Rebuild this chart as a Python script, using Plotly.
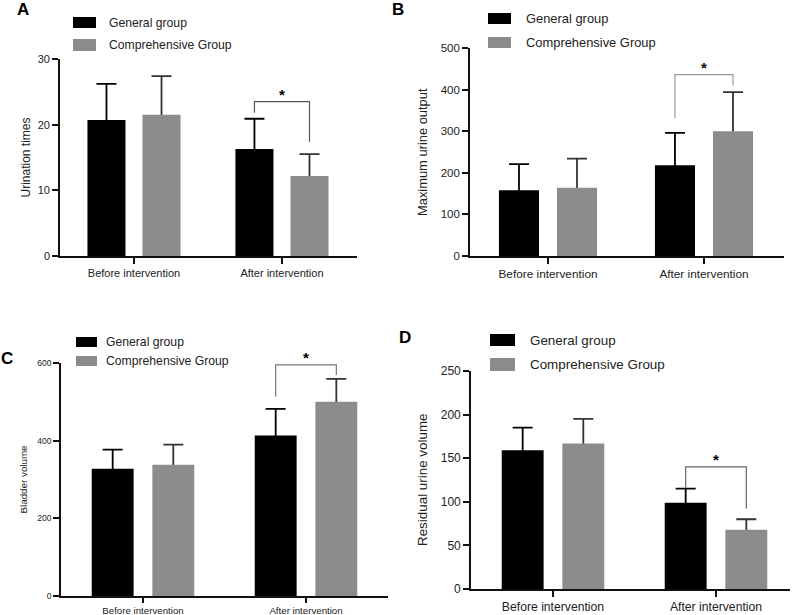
import plotly.graph_objects as go

W, H = 800, 615

categories = ["Before intervention", "After intervention"]
series_names = ["General group", "Comprehensive Group"]

# Panel A: Urination times
a_general = [20.7, 16.3]
a_general_sd = [5.5, 4.6]
a_comp = [21.5, 12.2]
a_comp_sd = [5.9, 3.3]

# Panel B: Maximum urine output
b_general = [158, 218]
b_general_sd = [63, 78]
b_comp = [164, 300]
b_comp_sd = [70, 94]

# Panel C: Bladder volume
c_general = [328, 413]
c_general_sd = [49, 69]
c_comp = [338, 500]
c_comp_sd = [52, 59]

# Panel D: Residual urine volume
d_general = [159, 99]
d_general_sd = [26, 16]
d_comp = [167, 68]
d_comp_sd = [28, 12]

# significance brackets: (top, left-leg bottom, right-leg bottom)
a_bracket = [23.5, 21.8, 17.4]
b_bracket = [436, 331, 410]
c_bracket = [595, 513, 569]
d_bracket = [140, 116, 92]

BLACK = "#000000"
GRAY = "#8c8c8c"
BAR_W = 0.257
SLOT = 0.372
OFF_G = -SLOT / 2 - BAR_W / 2
OFF_C = SLOT / 2 - BAR_W / 2


def px(x):
    return x / W


def py(y):
    return 1 - y / H


panels = [
    dict(n=1, letter="A", data=(a_general, a_general_sd, a_comp, a_comp_sd), br=a_bracket,
         xdom=(60, 357), ydom=(256, 59), xr=(-0.5, 1.507), yr=(0, 30), dtick=10,
         tickfs=11, catfs=11, xticklen=6, ytitle="Urination times", ytfs=12, ytx=25,
         letter_xy=(23, 9), leg=(73, 96, 17, 28, 39, 51, 107), legfs=12.2,
         br_col="#555555"),
    dict(n=2, letter="B", data=(b_general, b_general_sd, b_comp, b_comp_sd), br=b_bracket,
         xdom=(470, 784), ydom=(256, 48), xr=(-0.5, 1.513), yr=(0, 500), dtick=100,
         tickfs=11.5, catfs=11.8, xticklen=6, ytitle="Maximum urine output", ytfs=12.9, ytx=422,
         letter_xy=(398, 10), leg=(488, 511, 13, 24, 37, 48, 524), legfs=12.9,
         br_col="#999999"),
    dict(n=3, letter="C", data=(c_general, c_general_sd, c_comp, c_comp_sd), br=c_bracket,
         xdom=(61, 388), ydom=(596, 363), xr=(-0.503, 1.503), yr=(0, 600), dtick=200,
         tickfs=8.5, catfs=9.7, xticklen=5, ytitle="Bladder volume", ytfs=9.8, ytx=23,
         letter_xy=(7, 358), leg=(76, 97, 337, 347, 356, 366, 104), legfs=12.2,
         br_col="#777777"),
    dict(n=4, letter="D", data=(d_general, d_general_sd, d_comp, d_comp_sd), br=d_bracket,
         xdom=(471, 790), ydom=(589, 371), xr=(-0.503, 1.454), yr=(0, 250), dtick=50,
         tickfs=12, catfs=12.2, xticklen=6, ytitle="Residual urine volume", ytfs=13.4, ytx=422,
         letter_xy=(405, 337), leg=(490, 515, 334, 346, 358, 371, 528), legfs=13.4,
         br_col="#666666"),
]

fig = go.Figure()
shapes = []
annotations = []
FONT = "Liberation Sans, Arial, sans-serif"


def axname(prefix, i):
    return prefix + ("" if i == 1 else str(i))


for p in panels:
    n = p["n"]
    xa = axname("x", n)
    ya = axname("y", n)          # main axis (ticks, error bars)
    yo = axname("y", n + 4)      # overlay axis (visible bars drawn on top)
    g, gsd, c, csd = p["data"]

    # transparent bars on the main axis carrying mean +/- SD error bars;
    # the lower half is hidden behind the visible bars drawn above
    for vals, sds, off, ecol, nm in [(g, gsd, OFF_G, "#000000", series_names[0]),
                                     (c, csd, OFF_C, "#333333", series_names[1])]:
        fig.add_trace(go.Bar(
            x=categories, y=vals, name=nm, width=BAR_W, offset=off,
            marker=dict(color="rgba(0,0,0,0)", line=dict(width=0)),
            error_y=dict(type="data", array=sds, symmetric=True,
                         color=ecol, thickness=1.8, width=10),
            xaxis=xa, yaxis=ya, showlegend=False, hoverinfo="skip"))
    # visible bars on the overlay axis
    for vals, off, col, nm in [(g, OFF_G, BLACK, series_names[0]),
                               (c, OFF_C, GRAY, series_names[1])]:
        fig.add_trace(go.Bar(
            x=categories, y=vals, name=nm, width=BAR_W, offset=off,
            marker=dict(color=col, line=dict(width=0)),
            xaxis=xa, yaxis=yo, showlegend=False))

    axis_common = dict(showline=True, linecolor="#111111", linewidth=1.6, ticks="outside",
                       tickwidth=1.6, tickcolor="#111111", showgrid=False,
                       zeroline=False, fixedrange=True, automargin=False)
    fig.update_layout(**{
        ("xaxis" + ("" if n == 1 else str(n))): dict(
            domain=[px(p["xdom"][0]), px(p["xdom"][1])], range=list(p["xr"]),
            anchor=ya, type="category", ticklen=p["xticklen"],
            tickfont=dict(size=p["catfs"], color="#222222", family=FONT), **axis_common),
        ("yaxis" + ("" if n == 1 else str(n))): dict(
            domain=[py(p["ydom"][0]), py(p["ydom"][1])], range=list(p["yr"]),
            anchor=xa, dtick=p["dtick"], tick0=0, ticklen=6,
            tickfont=dict(size=p["tickfs"], color="#222222", family=FONT), **axis_common),
        ("yaxis" + str(n + 4)): dict(
            overlaying=ya, anchor=xa, range=list(p["yr"]), visible=False,
            showgrid=False, zeroline=False, fixedrange=True, automargin=False),
    })

    # y-axis title
    ymid = (p["ydom"][0] + p["ydom"][1]) / 2
    annotations.append(dict(x=px(p["ytx"]), y=py(ymid), xref="paper", yref="paper",
                            text=p["ytitle"], textangle=-90, showarrow=False,
                            font=dict(size=p["ytfs"], color="#222222", family=FONT),
                            xanchor="center", yanchor="middle"))
    # panel letter
    lx, ly = p["letter_xy"]
    annotations.append(dict(x=px(lx), y=py(ly), xref="paper", yref="paper",
                            text="<b>%s</b>" % p["letter"], showarrow=False,
                            font=dict(size=17, color="#000000", family=FONT),
                            xanchor="center", yanchor="middle"))
    # legend (manual swatches)
    x0, x1, gy0, gy1, cy0, cy1, tx = p["leg"]
    for (y0, y1, col, nm) in [(gy0, gy1, BLACK, series_names[0]), (cy0, cy1, GRAY, series_names[1])]:
        shapes.append(dict(type="rect", xref="paper", yref="paper", x0=px(x0), x1=px(x1),
                           y0=py(y1), y1=py(y0), fillcolor=col, line=dict(width=0)))
        annotations.append(dict(x=px(tx), y=py((y0 + y1) / 2), xref="paper", yref="paper",
                                text=nm, showarrow=False, xanchor="left", yanchor="middle",
                                font=dict(size=p["legfs"], color="#222222", family=FONT)))
    # significance bracket on the "After intervention" pair
    top, lb, rb = p["br"]
    xl = 1 + OFF_G + BAR_W / 2
    xr = 1 + OFF_C + BAR_W / 2
    shapes.append(dict(type="path", xref=xa, yref=ya,
                       path="M %f,%f L %f,%f L %f,%f L %f,%f" % (xl, lb, xl, top, xr, top, xr, rb),
                       line=dict(color=p["br_col"], width=1.2)))
    annotations.append(dict(x=1, y=top, xref=xa, yref=ya, text="<b>*</b>", showarrow=False,
                            xanchor="center", yanchor="bottom", yshift=-3,
                            font=dict(size=15, color="#000000", family=FONT)))

fig.update_layout(
    width=W, height=H, margin=dict(l=0, r=0, t=0, b=0, autoexpand=False),
    paper_bgcolor="white", plot_bgcolor="white",
    barmode="overlay",
    shapes=shapes, annotations=annotations, showlegend=False,
    font=dict(family=FONT, color="#222222"),
)

post = ("var d=document.getElementById('{plot_id}');"
        "document.body.style.margin='0';document.body.style.overflow='hidden';"
        "if(d){d.style.position='absolute';d.style.left='0px';d.style.top='0px';}")
fig.write_html("out.html", post_script=post, config={"displayModeBar": False})
